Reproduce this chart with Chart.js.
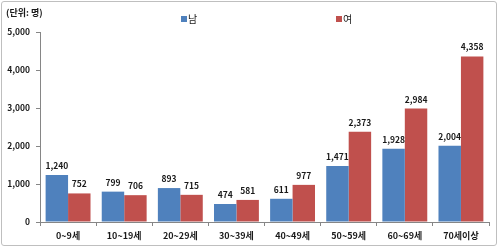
<!DOCTYPE html>
<html>
<head>
<meta charset="utf-8">
<script src="https://cdn.jsdelivr.net/npm/chart.js@4"></script>
<style>
  html, body { margin: 0; padding: 0; background: #fff; }
  #wrap { position: relative; width: 500px; height: 249px; }
  #frame { position: absolute; left: 1px; top: 1px; width: 496px; height: 245px;
           border: 1px solid #bfbfbf; border-radius: 3px; box-sizing: border-box; }
</style>
</head>
<body>
<div id="wrap">
  <div id="frame"></div>
  <canvas id="c" width="500" height="249"></canvas>
</div>
<script>
// Age-band population by sex (unit: persons)
const CATEGORIES = ["0~9세", "10~19세", "20~29세", "30~39세", "40~49세", "50~59세", "60~69세", "70세이상"];
const MALE   = [1240, 799, 893, 474, 611, 1471, 1928, 2004];
const FEMALE = [752, 706, 715, 581, 977, 2373, 2984, 4358];
const Y_TICKS = [0, 1000, 2000, 3000, 4000, 5000];

const BLUE = "#4f81bd";
const RED = "#c0504d";
const FONT = "'Noto Sans CJK KR', 'Noto Sans', sans-serif";

// Value labels above each bar.
const barLabels = {
  id: "barLabels",
  afterDatasetsDraw(c) {
    const ctx = c.ctx;
    ctx.save();
    ctx.font = `bold 8.5px ${FONT}`;
    ctx.fillStyle = "#1a1a1a";
    ctx.textAlign = "center";
    ctx.textBaseline = "bottom";
    c.data.datasets.forEach((ds, di) => {
      c.getDatasetMeta(di).data.forEach((bar, i) => {
        ctx.fillText(ds.data[i].toLocaleString("en-US"), bar.x, bar.y - 5);
      });
    });
    ctx.restore();
  },
};

// Excel-style top legend with widely spaced items, plus unit note.
const topNotes = {
  id: "topNotes",
  afterDraw(c) {
    const ctx = c.ctx;
    ctx.save();
    ctx.textBaseline = "middle";
    ctx.fillStyle = "#1a1a1a";
    ctx.font = `bold 9px ${FONT}`;
    ctx.textAlign = "left";
    ctx.fillText("(단위: 명)", 6, 13);
    const xs = [181, 336];
    c.data.datasets.forEach((ds, i) => {
      ctx.fillStyle = ds.backgroundColor;
      ctx.fillRect(xs[i], 16, 6, 6);
      ctx.fillStyle = "#1a1a1a";
      ctx.font = `10px ${FONT}`;
      ctx.fillText(ds.label, xs[i] + 7, 19);
    });
    ctx.restore();
  },
};

new Chart(document.getElementById("c"), {
  type: "bar",
  data: {
    labels: CATEGORIES,
    datasets: [
      { label: "남", data: MALE, backgroundColor: BLUE, borderWidth: 0,
        categoryPercentage: 0.8, barPercentage: 1.0 },
      { label: "여", data: FEMALE, backgroundColor: RED, borderWidth: 0,
        categoryPercentage: 0.8, barPercentage: 1.0 },
    ],
  },
  options: {
    responsive: false,
    animation: false,
    layout: { padding: { left: 0, right: 11, top: 32, bottom: 0 } },
    plugins: { legend: { display: false }, tooltip: { enabled: false } },
    scales: {
      x: {
        grid: { display: true, drawOnChartArea: false, drawTicks: true, tickLength: 4,
                color: "#868686", offset: true },
        border: { color: "#868686" },
        ticks: { color: "#1a1a1a", font: { family: FONT, size: 9, weight: "bold" },
                 padding: 4, maxRotation: 0, autoSkip: false },
        afterFit: (s) => { s.height = 27; },
      },
      y: {
        min: 0, max: 5000,
        afterBuildTicks: (s) => { s.ticks = Y_TICKS.map(v => ({ value: v })); },
        grid: { display: true, drawOnChartArea: false, drawTicks: true, tickLength: 4,
                color: "#868686" },
        border: { color: "#868686" },
        ticks: { color: "#1a1a1a", font: { family: FONT, size: 8.5, weight: "bold" },
                 padding: 6, callback: (v) => Number(v).toLocaleString("en-US") },
        afterFit: (s) => { s.width = 40; },
      },
    },
  },
  plugins: [barLabels, topNotes],
});
</script>
</body>
</html>
